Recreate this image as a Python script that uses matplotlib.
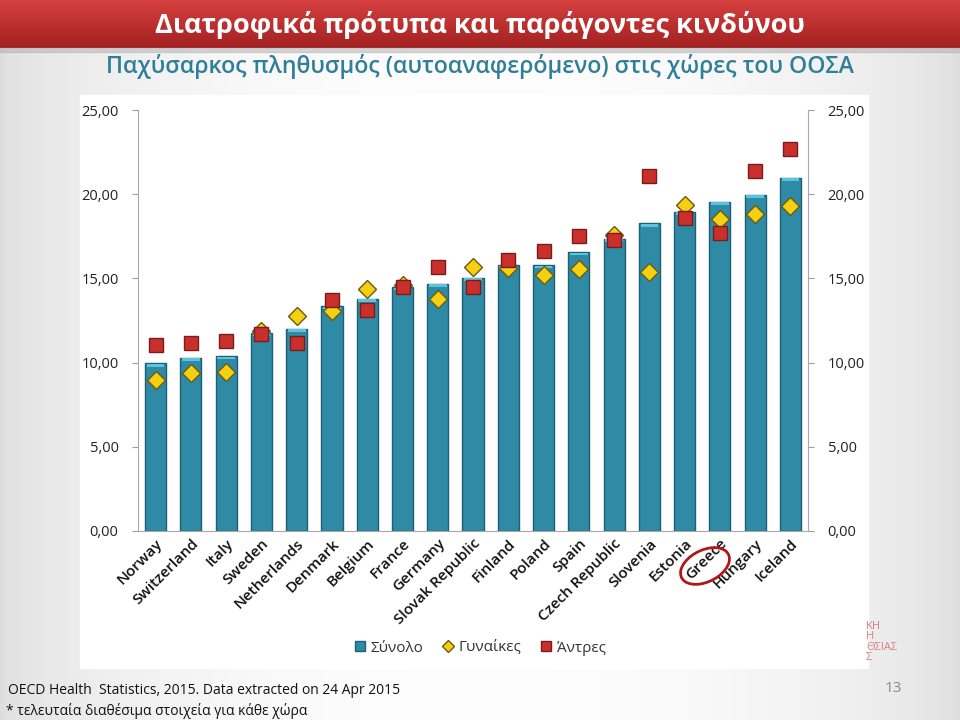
import numpy as np
import matplotlib.pyplot as plt
from matplotlib.patches import Ellipse, Rectangle
from matplotlib.lines import Line2D

plt.rcParams['font.family'] = ['Open Sans', 'DejaVu Sans']

# δεδομένα (διαβασμένα από το γράφημα)
countries = ['Norway', 'Switzerland', 'Italy', 'Sweden', 'Netherlands', 'Denmark',
             'Belgium', 'France', 'Germany', 'Slovak Republic', 'Finland', 'Poland',
             'Spain', 'Czech Republic', 'Slovenia', 'Estonia', 'Greece', 'Hungary',
             'Iceland']
total = [9.96, 10.3, 10.4, 11.78, 12.02, 13.37, 13.8, 14.5, 14.69, 15.05,
         15.78, 15.8, 16.57, 17.37, 18.28, 18.97, 19.56, 19.98, 20.99]
women = [8.97, 9.37, 9.47, 11.9, 12.77, 13.07, 14.4, 14.6, 13.8, 15.68,
         15.6, 15.2, 15.58, 17.6, 15.39, 19.37, 18.51, 18.81, 19.31]
men = [11.03, 11.19, 11.29, 11.68, 11.19, 13.7, 13.1, 14.5, 15.68, 14.5,
       16.1, 16.6, 17.5, 17.29, 21.09, 18.61, 17.68, 21.39, 22.71]
yticks = [0, 5, 10, 15, 20, 25]
ylabels = ['0,00', '5,00', '10,00', '15,00', '20,00', '25,00']

fig = plt.figure(figsize=(9.6, 7.2), dpi=100)

# φόντο: γκρι διαβάθμιση + κόκκινη κεφαλίδα
bg = fig.add_axes([0, 0, 1, 1], zorder=-10)
bg.set_xlim(0, 960)
bg.set_ylim(720, 0)
bg.axis('off')
gx = np.linspace(0, 1, 256)
grad = 0.87 + 0.12 * np.sin(np.pi * gx) ** 0.6
bg.imshow(np.tile(grad, (64, 1)), cmap='gray', vmin=0, vmax=1,
          extent=[0, 960, 720, 48], aspect='auto')
gy = np.linspace(0, 1, 64)[:, None]
red = np.dstack([0.84 - 0.2 * gy, 0.25 - 0.12 * gy, 0.25 - 0.12 * gy])
bg.imshow(np.repeat(red, 16, axis=1), extent=[0, 960, 48, 0], aspect='auto')
bg.add_patch(Rectangle((0, 48), 960, 4, color='#b0b0b0', alpha=0.5))
bg.add_patch(Rectangle((80, 95), 788, 573, color='white'))

fig.text(0.5, 0.965, 'Διατροφικά πρότυπα και παράγοντες κινδύνου',
         ha='center', va='center', color='white', fontsize=19.5, fontweight='bold')
fig.text(0.5, 0.907, 'Παχύσαρκος πληθυσμός (αυτοαναφερόμενο) στις χώρες του ΟΟΣΑ',
         ha='center', va='center', color='#2f7f98', fontsize=16.7, fontweight='semibold')

ax = fig.add_axes([0.14375, 0.2625, 0.698, 0.5847])
x = np.arange(len(countries))
ax.bar(x, total, width=0.6, color='#2f8aa5', edgecolor='#1d5f73', linewidth=1, zorder=2)
ax.bar(x, [0.15] * len(x), bottom=np.array(total) - 0.2, width=0.5,
       color='#5cc3dc', linewidth=0, zorder=2)
ax.plot(x, women, 'D', color='#f5cf12', markeredgecolor='#6b5a10',
        markeredgewidth=1, markersize=9, linestyle='none', zorder=3)
ax.plot(x, men, 's', color='#c9302c', markeredgecolor='#7a1c1a',
        markeredgewidth=1, markersize=10, linestyle='none', zorder=4)

ax.set_xlim(-0.5, len(countries) - 0.5)
ax.set_ylim(0, 25)
ax.set_yticks(yticks)
ax.set_yticklabels(ylabels)
ax.tick_params(axis='y', length=4, color='#a0a0a0', labelsize=10.5,
               labelcolor='#222222', right=True, labelright=True, pad=10)
ax.set_xticks(x)
ax.set_xticklabels(countries, rotation=45, ha='right', rotation_mode='anchor',
                   fontsize=11, fontweight='semibold', color='#111111')
ax.tick_params(axis='x', length=0, pad=4)
ax.spines['top'].set_visible(False)
for s in ['left', 'right', 'bottom']:
    ax.spines[s].set_color('#a8a8a8')
ax.set_facecolor('none')

# κύκλος γύρω από την Ελλάδα
fig.add_artist(Ellipse((705 / 960, 1 - 566 / 720), 0.06, 0.04, angle=45,
                       transform=fig.transFigure, fill=False,
                       edgecolor='#b01818', linewidth=2))

handles = [
    Line2D([], [], marker='s', color='#2f8aa5', markeredgecolor='#1d5f73',
           linestyle='none', markersize=7),
    Line2D([], [], marker='D', color='#f5cf12', markeredgecolor='#6b5a10',
           linestyle='none', markersize=6),
    Line2D([], [], marker='s', color='#c9302c', markeredgecolor='#7a1c1a',
           linestyle='none', markersize=7),
]
fig.legend(handles, ['Σύνολο', 'Γυναίκες', 'Άντρες'], loc='center',
           bbox_to_anchor=(0.5, 1 - 648 / 720), ncol=3, frameon=False,
           fontsize=11, handlelength=0.8, handletextpad=0.3, columnspacing=1.2,
           labelcolor='#333333')

fig.text(8 / 960, 1 - 690 / 720, 'OECD Health  Statistics, 2015. Data extracted on 24 Apr 2015',
         ha='left', va='center', fontsize=10, color='#111111')
fig.text(6 / 960, 1 - 711 / 720, '* τελευταία διαθέσιμα στοιχεία για κάθε χώρα',
         ha='left', va='center', fontsize=10, color='#111111')
fig.text(893 / 960, 1 - 688 / 720, '13', ha='center', va='center',
         fontsize=11, color='#8a8a8a')
fig.text(866 / 960, 1 - 642 / 720, 'ΚΗ\nΗ\nΘΣΙΑΣ\nΣ', ha='left', va='center',
         fontsize=8, color='#d98080', linespacing=0.9)

fig.savefig('out.png', dpi=100)
